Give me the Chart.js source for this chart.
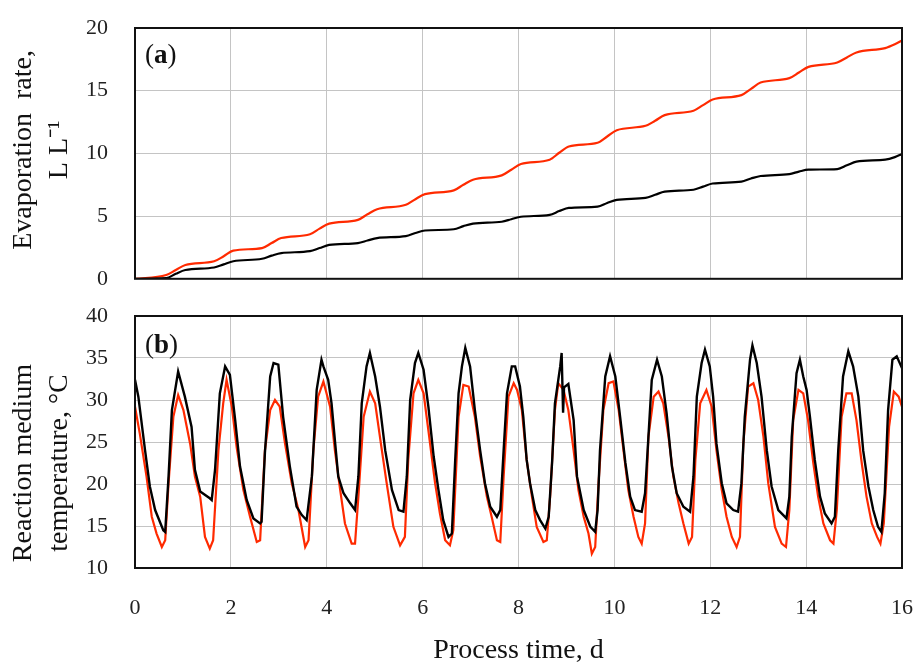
<!DOCTYPE html>
<html>
<head>
<meta charset="utf-8">
<script src="https://cdn.jsdelivr.net/npm/chart.js@4.4.1/dist/chart.umd.min.js"></script>
<style>
  body { margin: 0; background: #fff; }
  #wrap { position: relative; width: 918px; height: 665px; }
  .box { position: absolute; left: 0; width: 918px; }
  #boxA { top: 0; height: 292px; }
  #boxB { top: 300px; height: 365px; }
</style>
</head>
<body>
<div id="wrap">
  <div class="box" id="boxA"><canvas id="evapChart"></canvas></div>
  <div class="box" id="boxB"><canvas id="tempChart"></canvas></div>
</div>
<script>
// (a) cumulative evaporation, L L-1
const evapDays = [0, 0.65, 0.85, 1.05, 1.65, 1.85, 2.05, 2.65, 2.85, 3.05, 3.65, 3.85, 4.05, 4.65, 4.85, 5.05,
  5.65, 5.85, 6.05, 6.65, 6.85, 7.05, 7.65, 7.85, 8.05, 8.65, 8.85, 9.05, 9.65, 9.85, 10.05, 10.65, 10.85, 11.05,
  11.65, 11.85, 12.05, 12.65, 12.85, 13.05, 13.65, 13.85, 14.05, 14.65, 14.85, 15.05, 15.65, 15.85, 16.0];
const evapRed = [0, 0.3, 0.7, 1.1, 1.4, 1.8, 2.25, 2.45, 2.85, 3.25, 3.55, 4.0, 4.4, 4.7, 5.15, 5.55,
  5.9, 6.35, 6.75, 7.05, 7.5, 7.9, 8.25, 8.7, 9.15, 9.5, 10.05, 10.55, 10.85, 11.35, 11.85, 12.2, 12.6, 13.05,
  13.4, 13.85, 14.3, 14.65, 15.15, 15.65, 16.0, 16.45, 16.9, 17.25, 17.65, 18.05, 18.4, 18.7, 19.0];
const evapBlack = [0, 0.05, 0.4, 0.7, 0.9, 1.15, 1.4, 1.6, 1.85, 2.05, 2.2, 2.45, 2.7, 2.85, 3.05, 3.25,
  3.4, 3.65, 3.85, 3.95, 4.2, 4.4, 4.55, 4.75, 4.95, 5.1, 5.4, 5.65, 5.75, 6.05, 6.3, 6.45, 6.7, 6.95,
  7.1, 7.35, 7.6, 7.75, 8.0, 8.2, 8.35, 8.55, 8.7, 8.75, 9.05, 9.35, 9.5, 9.7, 9.95];

// (b) reaction medium temperature, °C
const tempDaysBlack = [0, 0.07, 0.21, 0.31, 0.42, 0.59, 0.63, 0.70, 0.77, 0.90, 1.04, 1.18, 1.25, 1.36, 1.56, 1.60,
  1.67, 1.77, 1.88, 1.98, 2.09, 2.19, 2.33, 2.47, 2.61, 2.64, 2.71, 2.82, 2.89, 2.99, 3.09, 3.23, 3.37, 3.48,
  3.58, 3.69, 3.79, 3.89, 3.93, 4.03, 4.10, 4.17, 4.24, 4.35, 4.49, 4.59, 4.66, 4.73, 4.83, 4.90, 5.01, 5.11,
  5.22, 5.36, 5.50, 5.60, 5.67, 5.74, 5.84, 5.91, 6.02, 6.12, 6.23, 6.33, 6.43, 6.54, 6.61, 6.68, 6.75, 6.82,
  6.89, 6.99, 7.09, 7.20, 7.30, 7.41, 7.55, 7.62, 7.69, 7.76, 7.86, 7.93, 8.03, 8.10, 8.17, 8.24, 8.35, 8.45,
  8.56, 8.63, 8.70, 8.76, 8.87, 8.90, 8.93, 8.95, 9.04, 9.15, 9.22, 9.36, 9.50, 9.60, 9.65, 9.70, 9.81, 9.91,
  10.02, 10.12, 10.23, 10.33, 10.43, 10.57, 10.64, 10.71, 10.78, 10.89, 10.99, 11.09, 11.20, 11.30, 11.44, 11.58,
  11.65, 11.72, 11.82, 11.89, 11.99, 12.06, 12.13, 12.24, 12.34, 12.48, 12.58, 12.65, 12.72, 12.83, 12.88, 12.97,
  13.07, 13.18, 13.28, 13.42, 13.59, 13.65, 13.70, 13.80, 13.87, 13.94, 14.01, 14.08, 14.18, 14.29, 14.39, 14.53,
  14.60, 14.67, 14.77, 14.88, 14.98, 15.09, 15.19, 15.30, 15.40, 15.50, 15.57, 15.64, 15.71, 15.80, 15.89, 16.00];
const tempBlack = [32.4, 30.4, 24.0, 19.7, 16.9, 14.5, 14.3, 20.9, 28.8, 33.4, 30.4, 26.8, 21.7, 19.1, 18.3, 18.1,
  21.7, 30.8, 34.0, 33.0, 27.6, 22.1, 18.1, 15.9, 15.3, 15.5, 23.7, 32.8, 34.4, 34.2, 28.0, 22.1, 17.3, 16.3,
  15.7, 20.9, 31.2, 34.8, 34.0, 32.4, 29.6, 25.2, 20.9, 18.9, 17.7, 16.9, 20.9, 29.6, 34.0, 35.6, 32.8, 29.2,
  24.0, 19.3, 16.9, 16.7, 20.9, 30.0, 34.4, 35.6, 33.6, 29.2, 23.3, 19.3, 15.7, 13.7, 14.1, 22.9, 30.8, 34.0,
  36.2, 34.0, 28.8, 24.0, 20.1, 17.3, 16.1, 16.9, 24.0, 30.8, 34.0, 34.0, 31.6, 28.0, 22.9, 20.1, 16.9, 15.7,
  14.7, 16.1, 22.5, 29.6, 34.0, 35.6, 28.5, 31.5, 31.9, 27.6, 20.9, 16.9, 14.9, 14.3, 16.9, 24.0, 32.8, 35.2,
  32.8, 28.0, 22.5, 18.5, 16.9, 16.7, 18.9, 25.6, 32.4, 34.8, 32.8, 28.4, 22.1, 18.9, 17.3, 16.7,
  20.9, 30.4, 34.4, 36.0, 34.0, 30.4, 24.8, 20.1, 17.7, 16.9, 16.7, 20.1, 28.0, 34.8, 36.5, 34.4,
  30.4, 24.0, 19.7, 16.9, 15.9, 18.5, 25.6, 33.2, 34.8, 32.8, 31.2, 28.0, 22.9, 18.5, 16.5, 15.3,
  16.1, 24.0, 32.8, 35.8, 34.0, 30.4, 24.0, 19.7, 16.9, 14.9, 14.3, 18.9, 28.8, 34.8, 35.2, 33.8];

const tempDaysRed = [0, 0.10, 0.24, 0.35, 0.45, 0.56, 0.63, 0.70, 0.80, 0.90, 1.01, 1.15, 1.25, 1.36, 1.46, 1.56,
  1.63, 1.74, 1.84, 1.91, 2.02, 2.12, 2.26, 2.40, 2.54, 2.61, 2.71, 2.82, 2.92, 3.02, 3.13, 3.27, 3.41, 3.55,
  3.62, 3.72, 3.82, 3.93, 4.07, 4.17, 4.28, 4.38, 4.52, 4.59, 4.66, 4.77, 4.90, 5.01, 5.15, 5.25, 5.39, 5.53,
  5.63, 5.70, 5.81, 5.91, 6.02, 6.12, 6.26, 6.36, 6.47, 6.57, 6.64, 6.75, 6.85, 6.96, 7.09, 7.20, 7.34, 7.44,
  7.55, 7.62, 7.69, 7.79, 7.90, 7.97, 8.07, 8.17, 8.28, 8.38, 8.52, 8.59, 8.66, 8.76, 8.83, 8.94, 9.04, 9.15,
  9.25, 9.36, 9.46, 9.53, 9.60, 9.67, 9.77, 9.88, 9.98, 10.09, 10.19, 10.29, 10.40, 10.50, 10.57, 10.64, 10.71,
  10.82, 10.92, 11.02, 11.13, 11.23, 11.34, 11.44, 11.55, 11.62, 11.69, 11.79, 11.92, 12.03, 12.13, 12.24, 12.34,
  12.45, 12.55, 12.62, 12.69, 12.79, 12.90, 13.00, 13.11, 13.21, 13.35, 13.49, 13.58, 13.65, 13.73, 13.84, 13.94,
  14.04, 14.15, 14.25, 14.36, 14.50, 14.57, 14.64, 14.74, 14.84, 14.95, 15.05, 15.16, 15.26, 15.37, 15.48, 15.55,
  15.62, 15.73, 15.83, 15.93, 16.00];
const tempRed = [29.2, 26.0, 20.9, 16.1, 14.1, 12.5, 13.3, 20.1, 28.0, 30.6, 28.8, 24.8, 20.9, 18.5, 13.7, 12.3,
  13.3, 24.0, 29.6, 32.4, 29.2, 24.4, 19.3, 16.1, 13.1, 13.3, 24.0, 28.8, 30.0, 29.2, 24.8, 20.1, 16.9, 12.5,
  13.3, 24.0, 30.4, 32.2, 29.2, 24.0, 19.3, 15.3, 12.9, 12.9, 18.5, 28.0, 31.0, 29.6, 24.0, 20.1, 14.9, 12.7,
  13.7, 22.9, 30.8, 32.4, 30.8, 26.4, 20.1, 16.5, 13.3, 12.7, 14.5, 28.0, 31.8, 31.6, 28.0, 23.3, 18.5, 16.1,
  13.3, 13.1, 20.9, 30.4, 32.0, 31.2, 28.8, 22.9, 18.5, 14.9, 13.1, 13.3, 18.5, 28.8, 32.0, 31.2, 28.8, 24.0,
  19.3, 16.1, 14.1, 11.7, 12.5, 20.1, 28.8, 32.0, 32.2, 28.8, 24.0, 19.3, 16.1, 13.7, 12.9, 15.3, 25.6,
  30.4, 31.0, 29.6, 25.6, 20.9, 17.7, 15.3, 12.9, 13.7, 22.9, 29.6, 31.2, 29.2, 24.0, 19.3, 16.1,
  13.7, 12.5, 13.7, 24.8, 31.6, 32.0, 30.0, 25.6, 20.1, 14.9, 12.9, 12.5, 16.9, 27.6, 31.2, 30.8,
  27.6, 22.5, 18.5, 15.3, 13.3, 12.9, 16.9, 28.0, 30.8, 30.8, 27.6, 22.5, 18.5, 15.3, 13.7, 12.9,
  15.3, 26.8, 31.0, 30.4, 29.2];

const dayTicks = [0, 2, 4, 6, 8, 10, 12, 14, 16];
const redColor = '#ff2a00';
const blackColor = '#000000';

Chart.defaults.font.family = "'Liberation Serif', 'Times New Roman', serif";
Chart.defaults.color = '#222';

function toPoints(xs, ys) {
    return xs.map((x, i) => ({ x: x, y: ys[i] }));
}

// frame around plot area + panel letter
const framePlugin = {
    id: 'frame',
    afterDraw(chart, args, opts) {
        const { ctx, chartArea } = chart;
        ctx.save();
        ctx.strokeStyle = '#111';
        ctx.lineWidth = 2;
        ctx.strokeRect(chartArea.left, chartArea.top, chartArea.right - chartArea.left, chartArea.bottom - chartArea.top);
        // panel label, letter in bold
        let x = chartArea.left + 10;
        const y = chartArea.top + opts.dy;
        ctx.fillStyle = '#111';
        ctx.textBaseline = 'alphabetic';
        ctx.font = "27px 'Liberation Serif', serif";
        ctx.fillText('(', x, y);
        x += ctx.measureText('(').width;
        ctx.font = "bold 27px 'Liberation Serif', serif";
        ctx.fillText(opts.letter, x, y);
        x += ctx.measureText(opts.letter).width;
        ctx.font = "27px 'Liberation Serif', serif";
        ctx.fillText(')', x, y);
        ctx.restore();
    }
};

// tick gap done with invisible tick marks so it does not push the plot area
function xScale(showTicks) {
    return {
        type: 'linear',
        min: 0,
        max: 16,
        afterBuildTicks: (s) => { s.ticks = dayTicks.map(v => ({ value: v })); },
        afterFit: (s) => { s.height = showTicks ? 97 : 0; },
        grid: { color: '#c4c4c4', lineWidth: 1, drawTicks: showTicks, tickLength: 27, tickColor: 'rgba(0,0,0,0)' },
        border: { display: false },
        ticks: { display: showTicks, padding: 0, font: { size: 22 }, color: '#222', maxRotation: 0 },
        title: {
            display: showTicks,
            text: 'Process time, d',
            color: '#111',
            font: { size: 28, lineHeight: 1.0 },
            padding: { top: 0, bottom: 0 }
        }
    };
}

function yScale(min, max, step, titleText) {
    return {
        min: min,
        max: max,
        afterFit: (s) => { s.width = 135; },
        grid: { color: '#c4c4c4', lineWidth: 1, drawTicks: true, tickLength: 27, tickColor: 'rgba(0,0,0,0)' },
        border: { display: false },
        ticks: { stepSize: step, padding: 0, font: { size: 22 }, color: '#222' },
        title: {
            display: true,
            text: titleText,
            color: '#111',
            font: { size: 28, lineHeight: 1.3 },
            padding: { top: 5, bottom: 0 }
        }
    };
}

const evapChart = new Chart(document.getElementById('evapChart'), {
    type: 'line',
    data: {
        datasets: [
            { data: toPoints(evapDays, evapBlack), borderColor: blackColor, borderWidth: 2.2, cubicInterpolationMode: 'monotone' },
            { data: toPoints(evapDays, evapRed), borderColor: redColor, borderWidth: 2.2, cubicInterpolationMode: 'monotone' }
        ]
    },
    options: {
        responsive: true,
        maintainAspectRatio: false,
        animation: false,
        elements: { point: { radius: 0 } },
        layout: { padding: { top: 28, right: 16, bottom: 13, left: 0 } },
        plugins: {
            legend: { display: false },
            tooltip: { enabled: false },
            frame: { letter: 'a', dy: 35 }
        },
        scales: {
            x: xScale(false),
            y: yScale(0, 20, 5, [' Evaporation  rate,', ' L L\u207B\u00B9'])
        }
    },
    plugins: [framePlugin]
});

const tempChart = new Chart(document.getElementById('tempChart'), {
    type: 'line',
    data: {
        datasets: [
            { data: toPoints(tempDaysBlack, tempBlack), borderColor: blackColor, borderWidth: 2.4 },
            { data: toPoints(tempDaysRed, tempRed), borderColor: redColor, borderWidth: 2.2 }
        ]
    },
    options: {
        responsive: true,
        maintainAspectRatio: false,
        animation: false,
        elements: { point: { radius: 0 }, line: { tension: 0 } },
        layout: { padding: { top: 16, right: 16, bottom: 0, left: 0 } },
        plugins: {
            legend: { display: false },
            tooltip: { enabled: false },
            frame: { letter: 'b', dy: 37 }
        },
        scales: {
            x: xScale(true),
            y: yScale(10, 40, 5, ['Reaction medium      ', 'temperature, \u00B0C      '])
        }
    },
    plugins: [framePlugin]
});
</script>
</body>
</html>
